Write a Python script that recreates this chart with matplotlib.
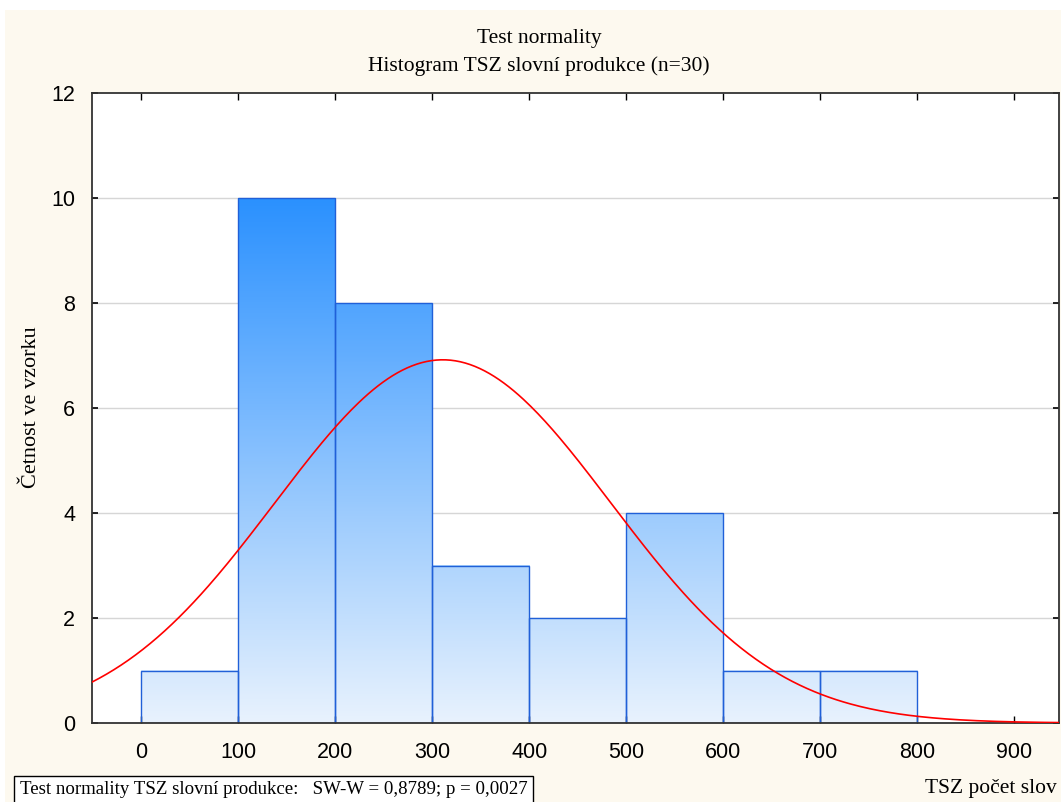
import numpy as np
import matplotlib.pyplot as plt
from matplotlib.colors import LinearSegmentedColormap

# histogram data
bin_left = [0, 100, 200, 300, 400, 500, 600, 700]
counts = [1, 10, 8, 3, 2, 4, 1, 1]
bin_width = 100
n = 30
mean = 311.0
sd = 173.0

x_ticks = [0, 100, 200, 300, 400, 500, 600, 700, 800, 900]
y_ticks = [0, 2, 4, 6, 8, 10, 12]

bg = '#fdf9ef'
cmap = LinearSegmentedColormap.from_list('bars', ['#e8f2fd', '#2b91ff'])

fig = plt.figure(figsize=(10.61, 8.02), dpi=100, facecolor='white')
# cream background with thin white border at top/left
fig.patches.append(plt.Rectangle((0.005, 0), 0.995, 0.987, transform=fig.transFigure,
                                 facecolor=bg, edgecolor='none', zorder=-10))
ax = fig.add_axes([92/1061, 1-723/802, (1059-92)/1061, (723-93)/802])
ax.set_facecolor('white')

xlim = (-50.5, 946)
ax.set_xlim(*xlim)
ax.set_ylim(0, 12)

for y in y_ticks[1:-1]:
    ax.axhline(y, color='#d6d6d6', linewidth=1.0, zorder=0)

for x0, c in zip(bin_left, counts):
    grad = np.linspace(0, c, 200).reshape(-1, 1)
    ax.imshow(grad, extent=[x0, x0 + bin_width, 0, c], origin='lower', aspect='auto',
              cmap=cmap, vmin=0, vmax=10, zorder=1, interpolation='bilinear')
    ax.add_patch(plt.Rectangle((x0, 0), bin_width, c, facecolor='none',
                               edgecolor='#2060d8', linewidth=1.0, zorder=2))

xs = np.linspace(xlim[0], xlim[1], 400)
ys = n * bin_width / (sd * np.sqrt(2 * np.pi)) * np.exp(-0.5 * ((xs - mean) / sd) ** 2)
ax.plot(xs, ys, color='#ff0000', linewidth=1.2, zorder=3)

ax.set_xlim(*xlim)
ax.set_ylim(0, 12)
ax.set_xticks(x_ticks)
ax.set_yticks(y_ticks)
ax.tick_params(axis='x', direction='in', top=True, length=5, width=1, pad=14)
ax.tick_params(axis='y', direction='in', right=True, length=4, width=1.2, pad=12)
for lbl in ax.get_xticklabels() + ax.get_yticklabels():
    lbl.set_fontfamily('Liberation Sans')
    lbl.set_fontsize(15.5)
for s in ax.spines.values():
    s.set_linewidth(1.3)
    s.set_color('#333333')

fig.text(0.508, 1-38/802, 'Test normality', ha='center', va='center',
         family='Liberation Serif', fontsize=15.5)
fig.text(0.508, 1-66/802, 'Histogram TSZ slovní produkce (n=30)', ha='center', va='center',
         family='Liberation Serif', fontsize=15.5)
fig.text(32/1061, 1-407/802, 'Četnost ve vzorku', rotation=90, ha='center', va='center',
         family='Liberation Serif', fontsize=16)
fig.text(1057/1061, 1-788/802, 'TSZ počet slov', ha='right', va='center',
         family='Liberation Serif', fontsize=15.5)
fig.text(20/1061, 1-790/802, 'Test normality TSZ slovní produkce:   SW-W = 0,8789; p = 0,0027',
         ha='left', va='center', family='Liberation Serif', fontsize=13.6,
         bbox=dict(boxstyle='square,pad=0.3', facecolor='white', edgecolor='black', linewidth=1))

fig.savefig('out.png', dpi=100, facecolor=fig.get_facecolor())
